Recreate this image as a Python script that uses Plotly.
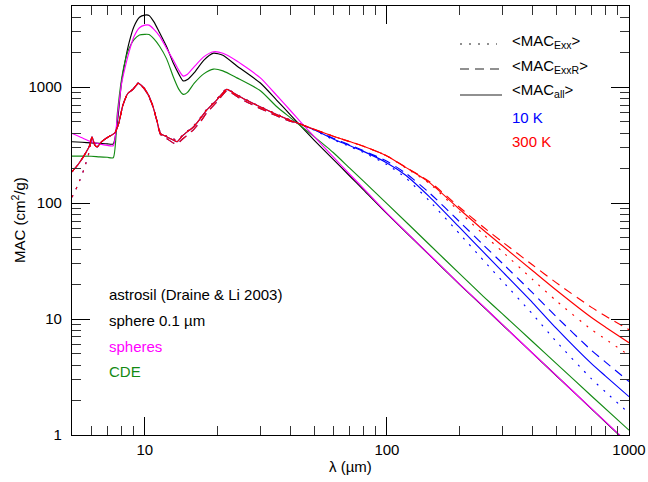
import plotly.graph_objects as go

# ---------------- data ----------------
# dust curves (sphere 0.1 um, spheres, CDE)
lam_dust = [5, 5.5, 6, 6.5, 7, 7.4, 7.7, 8.0, 8.3, 8.6,
            9.0, 9.5, 10.0, 10.4, 10.9, 11.5, 12.3, 13.1, 13.8, 14.4,
            15.0, 16.0, 17.5, 19.2, 21.0, 24, 30, 35, 40, 45,
            50, 60, 70, 80, 100, 150, 200, 250, 300, 400,
            500, 700, 1000]
mac_sphere = [338, 334, 330, 327, 324, 323, 500, 1080, 1700, 2400,
              3300, 4000, 4175, 4150, 3650, 2950, 2230, 1610, 1300, 1130,
              1160, 1330, 1700, 1960, 1880, 1520, 1083, 773, 574, 440,
              349, 238, 172, 130, 81, 35.6, 19.8, 12.8, 8.93, 5.06,
              3.26, 1.68, 0.83]
mac_spheres = [399, 365, 338, 323, 314, 312, 560, 1050, 1500, 2000,
               2700, 3250, 3420, 3423, 3150, 2750, 2150, 1710, 1400, 1244,
               1290, 1500, 1820, 2015, 1960, 1680, 1200, 850, 625, 475,
               375, 250, 178, 134, 82, 35.8, 19.9, 12.9, 8.95, 5.07,
               3.27, 1.69, 0.84]
mac_cde = [254, 254, 253, 250, 248, 246, 600, 1150, 1700, 2150,
           2550, 2810, 2850, 2840, 2600, 2250, 1750, 1227, 960, 865,
           900, 1080, 1300, 1429, 1380, 1200, 930, 680, 543, 446,
           374, 273, 201, 154.5, 99, 43.7, 24.5, 15.7, 11.06, 6.37,
           4.15, 2.17, 1.1]

# temperature curves: short-wavelength part (10 K and 300 K coincide)
lam_t_short = [5, 5.3, 5.6, 5.9, 6.05, 6.2, 6.35, 6.6, 6.9, 7.2,
               7.5, 7.8, 8.1, 8.5, 8.9, 9.4, 9.8, 10.2, 10.7, 11.2,
               11.6, 12.3, 13.1, 13.6, 14.4, 15.9, 17, 18, 19.8, 21.8,
               23, 24.7, 27, 29.9, 35, 40]
mac_all_short = [186, 215, 255, 310, 370, 318, 305, 335, 360, 380,
                 400, 487, 690, 880, 950, 1077, 1006, 900, 723, 519,
                 399, 373, 349, 338, 385, 455, 540, 633, 773, 955,
                 900, 825, 750, 676, 580, 515]
mac_exxr_short = [186, 215, 255, 310, 370, 318, 305, 335, 360, 380,
                  400, 487, 690, 880, 950, 1070, 1000, 890, 715, 515,
                  390, 360, 330, 325, 360, 430, 505, 600, 740, 930,
                  880, 800, 725, 655, 565, 505]
mac_exx_short = [112, 145, 195, 280, 370, 318, 305, 335, 360, 380,
                 400, 487, 690, 880, 955, 1090, 1015, 905, 730, 525,
                 405, 378, 360, 345, 390, 462, 548, 642, 785, 970,
                 910, 832, 755, 680, 585, 518]

# temperature curves: long-wavelength part
lam_t_long = [43, 50, 60, 70, 80, 100, 120, 150, 200, 250, 300, 400, 500, 700, 800, 1000]
mac_all_300K = [487, 433, 377, 339, 309, 255, 202, 150, 88, 58.6, 42.8, 26.1, 17.8, 10.3, 8.5, 6.24]
mac_exxr_300K = [487, 433, 377, 339, 309, 255, 203, 153, 91.5, 62.1, 46.2, 29.2, 20.6, 12.6, 10.6, 8.1]
mac_exx_300K = [487, 433, 377, 339, 309, 255, 200, 147, 83.6, 53.9, 38.1, 21.9, 14.4, 8.1, 6.7, 4.87]
mac_all_10K = [487, 428, 357, 313, 279, 222, 173, 113, 61.3, 37.9, 25.6, 13.8, 8.34, 4.12, 3.22, 2.14]
mac_exxr_10K = [487, 430, 362, 318, 283, 229, 180, 122, 68.7, 43.6, 30.2, 16.8, 10.5, 5.36, 4.25, 2.89]
mac_exx_10K = [487, 426, 352, 308, 273, 215, 164, 104, 54, 32.2, 21.2, 11.0, 6.42, 3.05, 2.35, 1.54]

x_ticks = [10, 100, 1000]
x_ticktext = ["10", "100", "1000"]
y_ticks = [1, 10, 100, 1000]
y_ticktext = ["1", "10", "100", "1000"]

# ---------------- styling ----------------
FONT = "Liberation Sans, Arial, sans-serif"
BLACK = "#000000"
MAGENTA = "#ff00ff"
GREEN = "#138a13"
BLUE = "#0000ff"
RED = "#ff0000"
LW = 1.15
DOT = "2px,7px"
DASH = "9px,6px"

W, H = 648, 482
L, R, T, B = 72, 19, 6, 47
PW, PH = W - L - R, H - T - B


def px(x):
    return (x - L) / PW


def py(y):
    return (H - B - y) / PH


fig = go.Figure()


def add(lam, mac, color, dash="solid"):
    fig.add_trace(go.Scatter(x=lam, y=mac, mode="lines",
                             line=dict(color=color, width=LW, dash=dash,
                                       shape="spline", smoothing=0.6),
                             showlegend=False, hoverinfo="skip"))


lam_t = lam_t_short + lam_t_long

add(lam_dust, mac_sphere, BLACK)
add(lam_dust, mac_cde, GREEN)
add(lam_dust, mac_spheres, MAGENTA)

add(lam_t, mac_exx_short + mac_exx_10K, BLUE, DOT)
add(lam_t, mac_exxr_short + mac_exxr_10K, BLUE, DASH)
add(lam_t, mac_all_short + mac_all_10K, BLUE)
add(lam_t, mac_exx_short + mac_exx_300K, RED, DOT)
add(lam_t, mac_exxr_short + mac_exxr_300K, RED, DASH)
add(lam_t, mac_all_short + mac_all_300K, RED)


def minor_vals(decades):
    out = []
    for d in decades:
        for k in range(2, 10):
            out.append(k * d)
    return out


axis_common = dict(
    type="log", showline=True, linecolor="black", linewidth=1.2,
    mirror="ticks", ticks="inside", ticklen=18, tickwidth=1, tickcolor="black",
    showgrid=False, zeroline=False, automargin=False,
    tickfont=dict(family=FONT, size=15, color="black"),
)

fig.update_xaxes(
    **axis_common, range=[0.69897, 3.0], tickmode="array",
    tickvals=x_ticks, ticktext=x_ticktext, ticklabelstandoff=1,
    minor=dict(tickmode="array", tickvals=minor_vals([1, 10, 100]),
               ticks="inside", ticklen=9, tickwidth=1, tickcolor="#333333",
               showgrid=False),
)
fig.update_yaxes(
    **axis_common, range=[0.0, 3.699], tickmode="array",
    tickvals=y_ticks, ticktext=y_ticktext, ticklabelstandoff=6,
    minor=dict(tickmode="array", tickvals=minor_vals([1, 10, 100, 1000]),
               ticks="inside", ticklen=9, tickwidth=1, tickcolor="#333333",
               showgrid=False),
)

ann = []


def text(x, y, s, color="black", anchor="left", angle=0, size=15):
    ann.append(dict(xref="paper", yref="paper", x=px(x), y=py(y), text=s,
                    showarrow=False, xanchor=anchor, yanchor="middle",
                    textangle=angle,
                    font=dict(family=FONT, size=size, color=color)))


# axis titles
text(350.5, 467, "λ (µm)", anchor="center")
text(18, 220, "MAC (cm<sup>2</sup>/g)", anchor="center", angle=-90)

# legend (top right)
text(510, 41, "&lt;MAC<sub>Exx</sub>&gt;")
text(510, 66, "&lt;MAC<sub>ExxR</sub>&gt;")
text(510, 91, "&lt;MAC<sub>all</sub>&gt;")
text(510, 117, "10 K", BLUE)
text(510, 141, "300 K", RED)

shapes = []
for yy, dsh, x2 in [(44, DOT, 497), (69, DASH, 502), (95, "solid", 502)]:
    shapes.append(dict(type="line", xref="paper", yref="paper",
                       x0=px(460), x1=px(x2), y0=py(yy), y1=py(yy),
                       line=dict(color="#222222", width=LW, dash=dsh)))

# labels (bottom left)
text(107, 294, "astrosil (Draine &amp; Li 2003)")
text(107, 320, "sphere 0.1 µm")
text(107, 346, "spheres", MAGENTA)
text(107, 371, "CDE", GREEN)

fig.update_layout(
    width=W, height=H,
    margin=dict(l=L, r=R, t=T, b=B, pad=0),
    paper_bgcolor="white", plot_bgcolor="white",
    annotations=ann, shapes=shapes,
    font=dict(family=FONT, size=15, color="black"),
)

fig.write_html("out.html",
               config={"displayModeBar": False},
               post_script="document.body.style.margin='0';"
                           "document.body.style.overflow='hidden';")
